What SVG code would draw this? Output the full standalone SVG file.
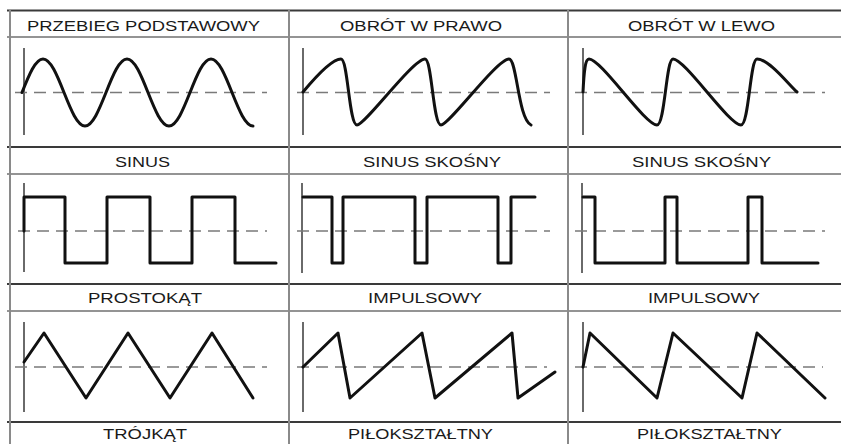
<svg xmlns="http://www.w3.org/2000/svg" width="841" height="444" viewBox="0 0 841 444">
<style>
.bg{fill:#ffffff}
.hd{stroke:#3a3a3a;stroke-width:2;fill:none}
.hl{stroke:#707070;stroke-width:1.5;fill:none}
.vl{stroke:#8a8a8a;stroke-width:2;fill:none}
.ax{stroke:#6a6a6a;stroke-width:2;fill:none}
.dash{stroke:#7a7a7a;stroke-width:1.5;stroke-dasharray:12 7;fill:none}
.wave{stroke:#111111;stroke-width:3;fill:none;stroke-linejoin:round;stroke-linecap:round}
.lbl{font-family:"Liberation Sans",Arial,sans-serif;font-size:14px;fill:#1a1a1a}
</style>
<rect class="bg" x="0" y="0" width="841" height="444"/>
<g id="grid">
<line class="hd" x1="7" y1="10.5" x2="841" y2="10.5"/>
<line class="hl" x1="7" y1="37" x2="841" y2="37"/>
<line class="hd" x1="7" y1="147" x2="841" y2="147"/>
<line class="hl" x1="7" y1="174" x2="841" y2="174"/>
<line class="hd" x1="7" y1="284" x2="841" y2="284"/>
<line class="hl" x1="7" y1="311" x2="841" y2="311"/>
<line class="hd" x1="7" y1="422" x2="841" y2="422"/>
<line class="vl" x1="10" y1="10" x2="10" y2="444"/>
<line class="vl" x1="289" y1="10" x2="289" y2="444"/>
<line class="vl" x1="568" y1="10" x2="568" y2="444"/>
</g>
<g id="headers">
<text class="lbl" x="27" y="30.5" textLength="233" lengthAdjust="spacingAndGlyphs">PRZEBIEG PODSTAWOWY</text>
<text class="lbl" x="340" y="30.5" textLength="162" lengthAdjust="spacingAndGlyphs">OBRÓT W PRAWO</text>
<text class="lbl" x="628" y="30.5" textLength="147" lengthAdjust="spacingAndGlyphs">OBRÓT W LEWO</text>
</g>
<g id="cell-sinus">
<line class="ax" x1="24" y1="48" x2="24" y2="135"/>
<line class="dash" x1="15" y1="92.5" x2="267" y2="92.5"/>
<path class="wave" d="M22,92.5 c6.85,-17.16 13.4,-33.5 21,-33.5 c7.6,0 14.15,16.34 21,33.5 c6.85,17.16 13.4,33.5 21,33.5 c7.6,0 14.15,-16.34 21,-33.5 c6.85,-17.16 13.4,-33.5 21,-33.5 c7.6,0 14.15,16.34 21,33.5 c6.85,17.16 13.4,33.5 21,33.5 c7.6,0 14.15,-16.34 21,-33.5 c6.85,-17.16 13.4,-33.5 21,-33.5 c7.6,0 14.15,16.34 21,33.5 c6.85,17.16 13.4,33.5 21,33.5"/>
<text class="lbl" x="115" y="167" textLength="55" lengthAdjust="spacingAndGlyphs">SINUS</text>
</g>
<g id="cell-sinus-skosny-prawo">
<line class="ax" x1="303" y1="48" x2="303" y2="135"/>
<line class="dash" x1="297" y1="92.5" x2="550" y2="92.5"/>
<path class="wave" d="M303,92 c10,-12 28,-33 38,-33 c7,0 8,66 16,66 c8,0 56,-66 68,-66 c7,0 8,66 16,66 c8,0 56,-66 68,-66 c8,0 9,60 22,66"/>
<text class="lbl" x="363" y="167" textLength="138" lengthAdjust="spacingAndGlyphs">SINUS SKOŚNY</text>
</g>
<g id="cell-sinus-skosny-lewo">
<line class="ax" x1="583" y1="48" x2="583" y2="135"/>
<line class="dash" x1="575" y1="92.5" x2="825" y2="92.5"/>
<path class="wave" d="M583,92 c1,-20 2,-33 6,-33 c12,0 56,66 68,66 c8,0 9,-66 16,-66 c12,0 56,66 68,66 c8,0 9,-66 16,-66 c12,0 32,26 40,33"/>
<text class="lbl" x="632" y="167" textLength="139" lengthAdjust="spacingAndGlyphs">SINUS SKOŚNY</text>
</g>
<g id="cell-prostokat">
<line class="ax" x1="24" y1="183" x2="24" y2="272"/>
<line class="dash" x1="18" y1="231" x2="267" y2="231"/>
<path class="wave" d="M24,231 V197 H65 V263 H107 V197 H150 V263 H192 V197 H235 V263 H276"/>
<text class="lbl" x="88" y="302.5" textLength="114" lengthAdjust="spacingAndGlyphs">PROSTOKĄT</text>
</g>
<g id="cell-impulsowy-1">
<line class="ax" x1="302" y1="183" x2="302" y2="273"/>
<line class="dash" x1="297" y1="231" x2="550" y2="231"/>
<path class="wave" d="M303,197 H332 V263 H343 V197 H415 V263 H427 V197 H498 V263 H511 V197 H535"/>
<text class="lbl" x="368" y="302.5" textLength="114" lengthAdjust="spacingAndGlyphs">IMPULSOWY</text>
</g>
<g id="cell-impulsowy-2">
<line class="ax" x1="582" y1="183" x2="582" y2="273"/>
<line class="dash" x1="575" y1="231" x2="825" y2="231"/>
<path class="wave" d="M583,197 H595 V263 H665 V197 H677 V263 H748 V197 H762 V263 H818"/>
<text class="lbl" x="648" y="302.5" textLength="112" lengthAdjust="spacingAndGlyphs">IMPULSOWY</text>
</g>
<g id="cell-trojkat">
<line class="ax" x1="24" y1="322" x2="24" y2="412"/>
<line class="dash" x1="15" y1="367" x2="267" y2="367"/>
<path class="wave" d="M24,362 L44,333 L86,398 L128,333 L170,398 L212,333 L253,398"/>
<text class="lbl" x="103" y="439" textLength="84" lengthAdjust="spacingAndGlyphs">TRÓJKĄT</text>
</g>
<g id="cell-piloksztaltny-1">
<line class="ax" x1="303" y1="322" x2="303" y2="412"/>
<line class="dash" x1="297" y1="367" x2="547" y2="367"/>
<path class="wave" d="M303,367 L338,333 L350,398 L422,333 L435,398 L512,333 L518,398 L555,372"/>
<text class="lbl" x="348" y="439" textLength="145" lengthAdjust="spacingAndGlyphs">PIŁOKSZTAŁTNY</text>
</g>
<g id="cell-piloksztaltny-2">
<line class="ax" x1="583" y1="322" x2="583" y2="412"/>
<line class="dash" x1="575" y1="367" x2="823" y2="367"/>
<path class="wave" d="M583,367 L590,333 L657,398 L673,333 L742,398 L757,333 L825,398"/>
<text class="lbl" x="637" y="439" textLength="145" lengthAdjust="spacingAndGlyphs">PIŁOKSZTAŁTNY</text>
</g>
<g id="connectors"></g>
</svg>
